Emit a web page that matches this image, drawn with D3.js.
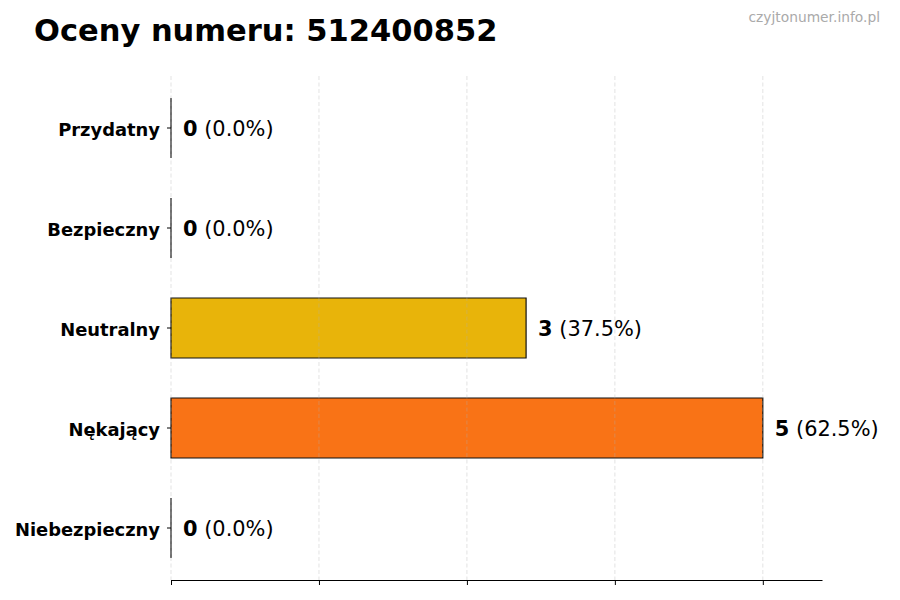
<!DOCTYPE html>
<html>
<head>
<meta charset="utf-8">
<script src="https://cdn.jsdelivr.net/npm/d3@7"></script>
<style>
  body { margin: 0; background: #fff; }
  svg { font-family: "DejaVu Sans", sans-serif; }
</style>
</head>
<body>
<script>
const categories = ['Przydatny', 'Bezpieczny', 'Neutralny', 'Nękający', 'Niebezpieczny'];
const counts = [0, 0, 3, 5, 0];
const percents = ['0.0%', '0.0%', '37.5%', '62.5%', '0.0%'];
const colors = ['#22c55e', '#3b82f6', '#e8b40a', '#f97316', '#dc2626'];
const gridTicks = [0, 1.25, 2.5, 3.75, 5];

const width = 900, height = 600;
const margin = { top: 78, right: 78, bottom: 22, left: 171 };
const axisY = 580;

const svg = d3.select('body').append('svg')
  .attr('width', width)
  .attr('height', height);

const x = d3.scaleLinear()
  .domain([0, 5.5])
  .range([margin.left, width - margin.right]);

const y = d3.scaleBand()
  .domain(categories)
  .range([margin.top, height - margin.bottom])
  .paddingInner(0.4)
  .paddingOuter(0.2);

// title + watermark
svg.append('text')
  .attr('x', 34).attr('y', 41)
  .style('font-size', '30.5px').style('font-weight', 'bold')
  .text('Oceny numeru: 512400852');

svg.append('text')
  .attr('x', 880).attr('y', 22)
  .attr('text-anchor', 'end')
  .style('font-size', '13.8px').attr('fill', '#aaaaaa')
  .text('czyjtonumer.info.pl');

// bars - drawn as paths so zero values still show their edge
svg.append('g').selectAll('path')
  .data(categories)
  .join('path')
  .attr('d', (d, i) => {
    const w = x(counts[i]) - x(0);
    return `M${x(0)},${y(d)}h${w}v${y.bandwidth()}h${-w}Z`;
  })
  .attr('fill', (d, i) => colors[i])
  .attr('stroke', '#111')
  .attr('stroke-width', 1.2);

// grid lines (drawn over bars, faint)
svg.append('g').selectAll('line')
  .data(gridTicks)
  .join('line')
  .attr('x1', d => x(d)).attr('x2', d => x(d))
  .attr('y1', 76).attr('y2', axisY)
  .attr('stroke', '#b0b0b0')
  .attr('stroke-opacity', 0.45)
  .attr('stroke-dasharray', '4,2.5')
  .attr('stroke-width', 0.8);

// x axis
const xAxis = svg.append('g')
  .attr('transform', `translate(0,${axisY})`)
  .call(d3.axisBottom(x).tickValues(gridTicks).tickSize(5).tickFormat('').tickSizeOuter(0));
xAxis.select('.domain').attr('stroke', '#000').attr('stroke-width', 1.2);
xAxis.selectAll('.tick line').attr('stroke', '#000').attr('stroke-width', 1);

// y axis (ticks + labels, no spine)
const yAxis = svg.append('g')
  .attr('transform', `translate(${margin.left},0)`)
  .call(d3.axisLeft(y).tickSize(4).tickPadding(7));
yAxis.select('.domain').remove();
yAxis.selectAll('.tick line').attr('stroke', '#000');
yAxis.selectAll('.tick text')
  .style('font-family', '"DejaVu Sans", sans-serif')
  .style('font-size', '17.9px')
  .style('font-weight', 'bold')
  .attr('fill', '#000')
  .attr('dy', '0.45em');

// value labels
const labels = svg.append('g').selectAll('text')
  .data(categories)
  .join('text')
  .attr('x', (d, i) => x(counts[i]) + 12)
  .attr('y', d => y(d) + y.bandwidth() / 2)
  .attr('dy', '0.36em')
  .style('font-size', '20.9px');
labels.append('tspan').style('font-weight', 'bold').text((d, i) => counts[i]);
labels.append('tspan').text((d, i) => ' (' + percents[i] + ')');
</script>
</body>
</html>
